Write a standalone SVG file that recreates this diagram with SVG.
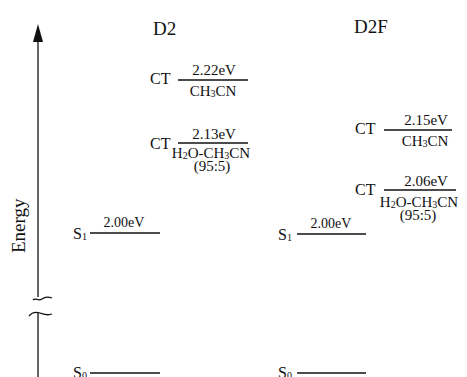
<svg xmlns="http://www.w3.org/2000/svg" width="467" height="377" viewBox="0 0 467 377">
  <style>
    text { font-family: "Liberation Serif", "Times New Roman", serif; fill: #111; }
    .title { font-size: 19px; }
    .ct { font-size: 16px; }
    .ev { font-size: 15px; text-anchor: middle; }
    .sol { font-size: 15px; text-anchor: middle; }
    .s { font-size: 16px; }
    .sev { font-size: 14px; text-anchor: middle; }
    .sub { font-size: 10px; }
    .lvl { stroke: #111; stroke-width: 1.4; fill: none; }
    .axis { stroke: #111; stroke-width: 1.3; fill: none; }
  </style>

  <!-- energy axis with break -->
  <g id="connectors">
    <path class="axis" d="M38,297 L38,42"/>
    <path d="M38,24 L43,42 L33,42 Z" fill="#111"/>
    <path class="axis" d="M33,300 C36,297 38,302 42,299 S49,297 52,298"/>
    <path class="axis" d="M29,316 C33,311 37,312 40,313 S47,316 52,314"/>
    <path class="axis" d="M38,313 L38,377"/>
  </g>
  <text class="title" transform="translate(25,253) rotate(-90)">Energy</text>

  <!-- D2 column -->
  <text class="title" x="153" y="35">D2</text>

  <g id="d2-ct-ch3cn">
    <text class="ct" x="150" y="84">CT</text>
    <line class="lvl" x1="178" y1="80" x2="248" y2="80"/>
    <text class="ev" x="214" y="75">2.22eV</text>
    <text class="sol" x="213" y="96">CH<tspan class="sub" dy="1">3</tspan><tspan dy="-1">CN</tspan></text>
  </g>

  <g id="d2-ct-mix">
    <text class="ct" x="150" y="149">CT</text>
    <line class="lvl" x1="178" y1="143" x2="248" y2="143"/>
    <text class="ev" x="214" y="139">2.13eV</text>
    <text class="sol" x="211" y="158">H<tspan class="sub" dy="1">2</tspan><tspan dy="-1">O-CH</tspan><tspan class="sub" dy="1">3</tspan><tspan dy="-1">CN</tspan></text>
    <text class="sol" x="212" y="171">(95:5)</text>
  </g>

  <g id="d2-s1">
    <text class="s" x="73" y="239">S<tspan class="sub" dy="1">1</tspan></text>
    <line class="lvl" x1="90" y1="233" x2="160" y2="233"/>
    <text class="sev" x="124" y="227">2.00eV</text>
  </g>

  <g id="d2-s0">
    <text class="s" x="73" y="378">S<tspan class="sub" dy="1">0</tspan></text>
    <line class="lvl" x1="90" y1="373" x2="160" y2="373"/>
  </g>

  <!-- D2F column -->
  <text class="title" x="354" y="33">D2F</text>

  <g id="d2f-ct-ch3cn">
    <text class="ct" x="355" y="134">CT</text>
    <line class="lvl" x1="384" y1="130" x2="452" y2="130"/>
    <text class="ev" x="426" y="125">2.15eV</text>
    <text class="sol" x="425" y="146">CH<tspan class="sub" dy="1">3</tspan><tspan dy="-1">CN</tspan></text>
  </g>

  <g id="d2f-ct-mix">
    <text class="ct" x="355" y="195">CT</text>
    <line class="lvl" x1="384" y1="190" x2="456" y2="190"/>
    <text class="ev" x="426" y="186">2.06eV</text>
    <text class="sol" x="419" y="207">H<tspan class="sub" dy="1">2</tspan><tspan dy="-1">O-CH</tspan><tspan class="sub" dy="1">3</tspan><tspan dy="-1">CN</tspan></text>
    <text class="sol" x="418" y="220">(95:5)</text>
  </g>

  <g id="d2f-s1">
    <text class="s" x="278" y="240">S<tspan class="sub" dy="1">1</tspan></text>
    <line class="lvl" x1="297" y1="234" x2="366" y2="234"/>
    <text class="sev" x="331" y="228">2.00eV</text>
  </g>

  <g id="d2f-s0">
    <text class="s" x="278" y="378">S<tspan class="sub" dy="1">0</tspan></text>
    <line class="lvl" x1="297" y1="373" x2="366" y2="373"/>
  </g>
</svg>
